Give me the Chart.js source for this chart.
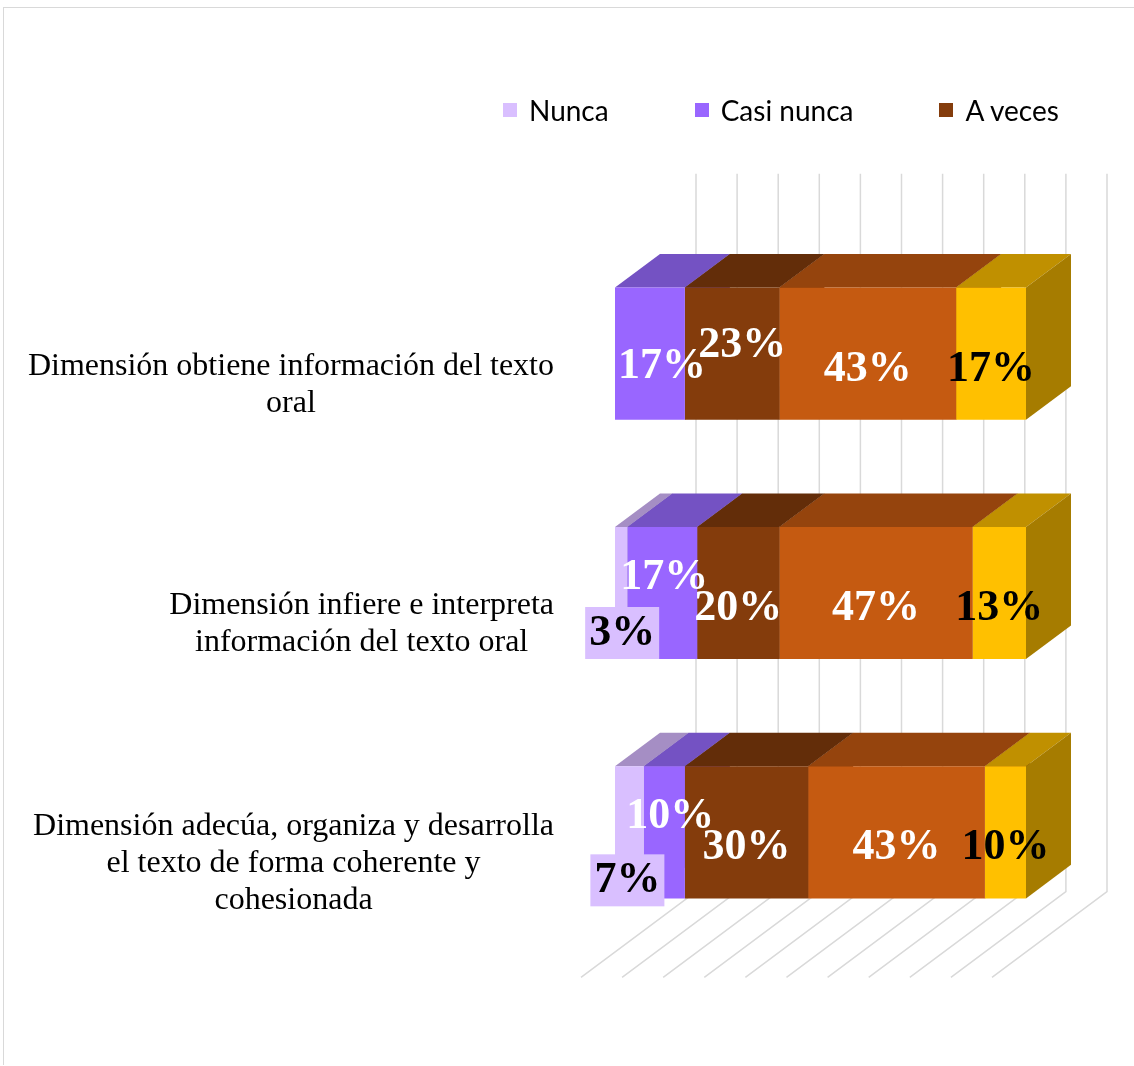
<!DOCTYPE html>
<html lang="es">
<head>
<meta charset="utf-8">
<title>Dimensiones</title>
<script src="https://cdn.jsdelivr.net/npm/chart.js@4.4.1/dist/chart.umd.min.js"></script>
<style>
  html, body { margin: 0; padding: 0; background: #fff; }
  #wrap { position: relative; width: 1134px; height: 1066px; overflow: hidden; }
  #marco { position: absolute; left: 3px; top: 7px; width: 1140px; height: 1057px;
           border-top: 1px solid #d9d9d9; border-left: 1px solid #d9d9d9; }
  #grafico { position: absolute; left: 0; top: 0; }
  #leyenda { position: absolute; left: 503px; top: 94px; display: flex; align-items: center; white-space: nowrap;
             font-family: Lato, "Open Sans", sans-serif; font-size: 28px; line-height: 32px; color: #000; }
  #leyenda .item { display: flex; align-items: center; margin-right: 86px; }
  #leyenda .caja { width: 14px; height: 14px; margin-right: 12px; flex: none; }
</style>
</head>
<body>
<div id="wrap">
  <div id="marco"></div>
  <canvas id="grafico" width="1134" height="1066"></canvas>
  <div id="leyenda"></div>
</div>
<script>
// datos (porcentajes)
const categorias = [
    ['Dimensión obtiene información del texto', 'oral'],
    ['Dimensión infiere e interpreta', 'información del texto oral'],
    ['Dimensión adecúa, organiza y desarrolla', 'el texto de forma coherente y', 'cohesionada']
];
const series = ['Nunca', 'Casi nunca', 'A veces', 'Casi siempre', 'Siempre'];
const nunca = [0, 3, 7];
const casiNunca = [17, 17, 10];
const aVeces = [23, 20, 30];
const casiSiempre = [43, 47, 43];
const siempre = [17, 13, 10];
const marcasX = [0, 10, 20, 30, 40, 50, 60, 70, 80, 90, 100];

// estilos
const colores = ['#d9bfff', '#9966ff', '#843c0c', '#c55a11', '#ffc000'];
const coloresArriba = ['#a58ec4', '#7452c3', '#632d09', '#95440d', '#c09000'];
const coloresLado = ['#9a84b8', '#6a4ab3', '#562707', '#833c0b', '#a67c00'];
const colorTexto = ['#000', '#fff', '#fff', '#fff', '#000'];
const enLeyenda = 3;

// ajustes de etiquetas (serie-fila) como en el original
const desplazar = {
    '1-0': [12, -3], '2-0': [10, -24],
    '0-1': [1, 25], '1-1': [2, -31],
    '0-2': [-2, 33], '1-2': [6, -31]
};

const K = 0.745;        // inclinación de la profundidad
const FONDO = 81;       // pared del fondo
const PROF_BARRA = 45;  // profundidad de la barra
const FRENTE = 34;      // borde delantero del piso

function poligono(ctx, pts) {
    ctx.beginPath();
    ctx.moveTo(pts[0][0], pts[0][1]);
    pts.slice(1).forEach(p => ctx.lineTo(p[0], p[1]));
    ctx.closePath();
    ctx.fill();
}

const efecto3D = {
    id: 'efecto3D',
    beforeDatasetsDraw(chart) {
        const { ctx, chartArea, scales: { x } } = chart;
        ctx.save();
        // pared del fondo y piso
        ctx.strokeStyle = '#d9d9d9';
        ctx.lineWidth = 1.5;
        marcasX.forEach(v => {
            const px = x.getPixelForValue(v);
            ctx.beginPath();
            ctx.moveTo(px + FONDO, chartArea.top - FONDO * K);
            ctx.lineTo(px + FONDO, chartArea.bottom - FONDO * K);
            ctx.lineTo(px - FRENTE, chartArea.bottom + FRENTE * K);
            ctx.stroke();
        });
        // caras superior y lateral
        const dx = PROF_BARRA, dy = PROF_BARRA * K;
        chart.data.datasets.forEach((ds, i) => {
            chart.getDatasetMeta(i).data.forEach(bar => {
                const p = bar.getProps(['x', 'base', 'y', 'height'], true);
                const l = Math.min(p.x, p.base), r = Math.max(p.x, p.base);
                if (r - l < 0.5) return;
                const t = p.y - p.height / 2, b = p.y + p.height / 2;
                ctx.fillStyle = coloresArriba[i];
                poligono(ctx, [[l, t], [r, t], [r + dx, t - dy], [l + dx, t - dy]]);
                ctx.fillStyle = coloresLado[i];
                poligono(ctx, [[r, t], [r + dx, t - dy], [r + dx, b - dy], [r, b]]);
            });
        });
        ctx.restore();
    },
    afterDatasetsDraw(chart) {
        const { ctx } = chart;
        ctx.save();
        ctx.font = 'bold 44px "Liberation Serif", "Times New Roman", serif';
        ctx.textAlign = 'center';
        ctx.textBaseline = 'alphabetic';
        chart.data.datasets.forEach((ds, i) => {
            chart.getDatasetMeta(i).data.forEach((bar, j) => {
                const v = ds.data[j];
                if (!v) return;
                const p = bar.getProps(['x', 'base', 'y'], true);
                const n = desplazar[i + '-' + j] || [0, 0];
                const cx = (p.x + p.base) / 2 + n[0];
                const cy = p.y + 12 + n[1];
                const txt = v + '%';
                if (i === 0) {
                    const w = ctx.measureText(txt).width + 8;
                    ctx.fillStyle = colores[0];
                    ctx.fillRect(cx - w / 2, cy + 3 - 26, w, 52);
                }
                ctx.fillStyle = colorTexto[i];
                ctx.fillText(txt, cx, cy + 15);
            });
        });
        ctx.restore();
    },
    afterDraw(chart) {
        // etiquetas de categoría: bloque alineado a la derecha, líneas centradas
        const { ctx, scales: { y } } = chart;
        ctx.save();
        ctx.font = '32px "Liberation Serif", "Times New Roman", serif';
        ctx.fillStyle = '#000';
        ctx.textAlign = 'center';
        ctx.textBaseline = 'middle';
        const derecha = 554, interlinea = 37;
        categorias.forEach((lineas, j) => {
            const ancho = Math.max(...lineas.map(s => ctx.measureText(s).width));
            const cx = derecha - ancho / 2;
            const cy = y.getPixelForValue(j) + 31;
            lineas.forEach((s, k) => {
                ctx.fillText(s, cx, cy + (k - (lineas.length - 1) / 2) * interlinea);
            });
        });
        ctx.restore();
    }
};

const valores = [nunca, casiNunca, aVeces, casiSiempre, siempre];

const grafico = new Chart(document.getElementById('grafico'), {
    type: 'bar',
    data: {
        labels: categorias,
        datasets: series.map((nombre, i) => ({
            label: nombre,
            data: valores[i],
            backgroundColor: colores[i],
            borderWidth: 0,
            categoryPercentage: 1,
            barPercentage: 0.552
        }))
    },
    options: {
        indexAxis: 'y',
        responsive: false,
        animation: false,
        devicePixelRatio: 1,
        layout: { padding: { left: 615, right: 108, top: 234, bottom: 114 } },
        plugins: { legend: { display: false }, tooltip: { enabled: false } },
        scales: {
            x: { stacked: true, min: 0, max: 100, display: false },
            y: { stacked: true, display: false }
        }
    },
    plugins: [efecto3D]
});

// leyenda (solo las tres primeras series, como en el original)
document.getElementById('leyenda').innerHTML = grafico.data.datasets.slice(0, enLeyenda).map(d => `
    <div class="item"><span class="caja" style="background:${d.backgroundColor}"></span>${d.label}</div>
`).join('');
</script>
</body>
</html>
